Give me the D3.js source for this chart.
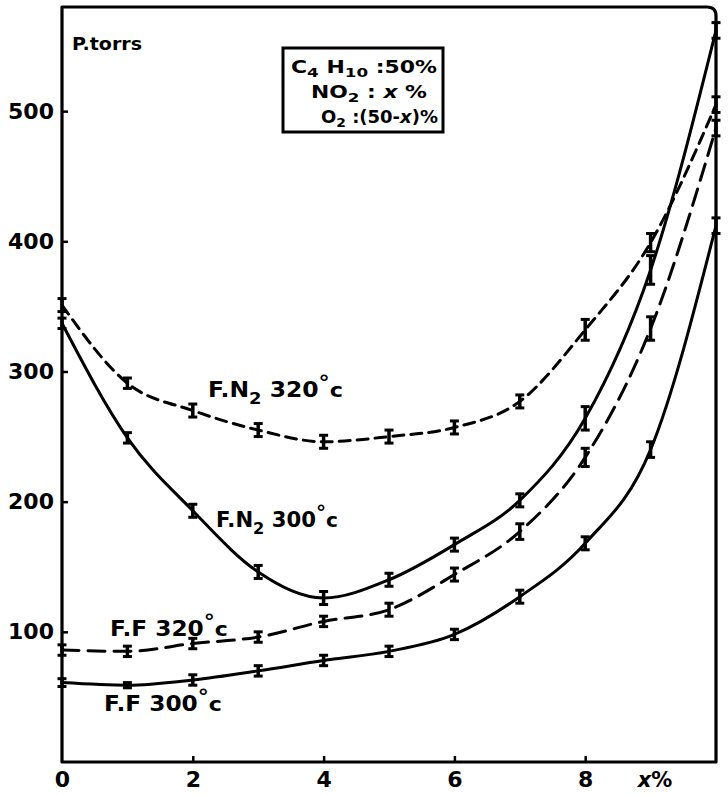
<!DOCTYPE html>
<html>
<head>
<meta charset="utf-8">
<script src="https://cdn.jsdelivr.net/npm/d3@7"></script>
<style>
  html, body { margin: 0; padding: 0; background: #fff; }
  svg { display: block; }
  text { font-family: "DejaVu Sans", sans-serif; font-weight: bold; fill: #000; }
</style>
</head>
<body>
<svg id="chart" width="728" height="795"></svg>
<script>
// NO2 fraction x (%) of the C4H10 / NO2 / O2 mixture
const xPct = [0, 1, 2, 3, 4, 5, 6, 7, 8, 9, 10];

// Critical pressures (torr) for each limit and temperature
const fn2_320 = [351, 291, 270, 255, 246, 250, 257, 277, 332, 399, 505];
const fn2_300 = [337, 249, 193, 146, 126, 140, 167, 201, 264, 378, 562];
const ff_320  = [86, 85, 91, 96, 108, 117, 144, 177, 234, 333, 487];
const ff_300  = [61, 59, 63, 70, 78, 85, 98, 127, 168, 240, 412];

// Half-length of the scatter bar on each measurement (torr)
const fn2_320_err = [5, 4, 5, 5, 5, 5, 5, 5, 8, 7, 6];
const fn2_300_err = [4, 4, 5, 5, 5, 5, 5, 5, 9, 11, 6];
const ff_320_err  = [4, 4, 4, 4, 4, 5, 5, 6, 7, 9, 6];
const ff_300_err  = [3, 2, 4, 4, 4, 4, 4, 5, 5, 6, 6];

const yTicks = [100, 200, 300, 400, 500];
const xTicks = [0, 2, 4, 6, 8];

const svg = d3.select("#chart");
const plotLeft = 62, plotRight = 716, plotTop = 7, plotBottom = 762;

const x = d3.scaleLinear().domain([0, 10]).range([plotLeft, plotRight]);
const y = d3.scaleLinear().domain([0, 580]).range([plotBottom, plotTop]);

// Frame with a slightly rounded top-right corner
svg.append("path")
  .attr("d", `M${plotLeft},${plotBottom} V${plotTop} H${plotRight - 9} Q${plotRight},${plotTop} ${plotRight},${plotTop + 9} V${plotBottom} Z`)
  .attr("fill", "none").attr("stroke", "#000").attr("stroke-width", 3.2)
  .attr("stroke-linejoin", "round");

// Axes: inward ticks, bold labels
const yAxis = svg.append("g").attr("transform", `translate(${plotLeft},0)`)
  .call(d3.axisLeft(y).tickValues(yTicks).tickSize(-6).tickPadding(8));
const xAxis = svg.append("g").attr("transform", `translate(0,${plotBottom})`)
  .call(d3.axisBottom(x).tickValues(xTicks).tickSize(-6).tickPadding(9).tickFormat(d3.format("d")));
[yAxis, xAxis].forEach(g => {
  g.select(".domain").remove();
  g.selectAll(".tick line").attr("stroke", "#000").attr("stroke-width", 2.5);
  g.selectAll(".tick text").attr("font-size", 22).attr("font-family", "DejaVu Sans").attr("font-weight", "bold").attr("fill", "#000");
});
xAxis.selectAll(".tick").filter(d => d === 0).select("line").remove();

// Axis titles
svg.append("text").attr("x", 655).attr("y", plotBottom + 25).attr("font-size", 21)
  .attr("text-anchor", "middle")
  .call(t => { t.append("tspan").attr("font-style", "italic").text("x"); t.append("tspan").text("%"); });
svg.append("text").attr("x", 72).attr("y", 50).attr("font-size", 18)
  .attr("textLength", 70).attr("lengthAdjust", "spacingAndGlyphs").text("P.torrs");

// Mixture composition box
const box = svg.append("g");
box.append("rect").attr("x", 283).attr("y", 48).attr("width", 160).attr("height", 84)
  .attr("fill", "none").attr("stroke", "#000").attr("stroke-width", 3);
function chem(g, xx, yy, len, parts) {
  const t = g.append("text").attr("x", xx).attr("y", yy).attr("font-size", 17);
  if (len) t.attr("textLength", len).attr("lengthAdjust", "spacingAndGlyphs");
  parts.forEach(p => {
    const s = t.append("tspan").text(p[0]);
    if (p[1] === "sub") s.attr("font-size", 13).attr("dy", 4);
    else if (p[1] === "up") s.attr("dy", -4);
    else if (p[1] === "it") s.attr("font-style", "italic");
  });
  return t;
}
chem(box, 291, 73, 146, [["C"], ["4", "sub"], [" H", "up"], ["10", "sub"], [" :50%", "up"]]);
chem(box, 311, 98, 116, [["NO"], ["2", "sub"], ["  : ", "up"], ["x", "it"], [" %"]]);
chem(box, 321, 123, 117, [["O"], ["2", "sub"], [" :(50-", "up"], ["x", "it"], [")%"]]);

// Curves
const series = [
  { v: fn2_320, e: fn2_320_err, dash: "11,7" },
  { v: fn2_300, e: fn2_300_err, dash: null },
  { v: ff_320,  e: ff_320_err,  dash: "17,9" },
  { v: ff_300,  e: ff_300_err,  dash: null }
];
const line = d3.line().x((d, i) => x(xPct[i])).y(d => y(d)).curve(d3.curveMonotoneX);

series.forEach(s => {
  svg.append("path").datum(s.v).attr("d", line)
    .attr("fill", "none").attr("stroke", "#000").attr("stroke-width", 3)
    .attr("stroke-dasharray", s.dash).attr("stroke-linecap", "round");

  const bars = svg.append("g").selectAll("g").data(s.v).join("g");
  bars.append("line")
    .attr("x1", (d, i) => x(xPct[i])).attr("x2", (d, i) => x(xPct[i]))
    .attr("y1", (d, i) => y(d - s.e[i])).attr("y2", (d, i) => y(d + s.e[i]))
    .attr("stroke", "#000").attr("stroke-width", 3.5);
  ["-", "+"].forEach(sign => {
    bars.append("line")
      .attr("x1", (d, i) => x(xPct[i]) - 4.5).attr("x2", (d, i) => x(xPct[i]) + 4.5)
      .attr("y1", (d, i) => y(sign === "-" ? d - s.e[i] : d + s.e[i]))
      .attr("y2", (d, i) => y(sign === "-" ? d - s.e[i] : d + s.e[i]))
      .attr("stroke", "#000").attr("stroke-width", 3);
  });
});

// Curve labels
function curveLabel(xx, yy, len, name, sub, temp) {
  const t = svg.append("text").attr("x", xx).attr("y", yy).attr("font-size", 21)
    .attr("textLength", len).attr("lengthAdjust", "spacingAndGlyphs");
  t.append("tspan").text(name);
  if (sub) {
    t.append("tspan").attr("font-size", 16).attr("dy", 7).text(sub);
    t.append("tspan").attr("dy", -7).text(" " + temp);
  } else {
    t.append("tspan").text("  " + temp);
  }
  t.append("tspan").attr("font-size", 20).attr("dy", -8).text("°");
  t.append("tspan").attr("font-size", 20).attr("dy", 8).text("c");
}
curveLabel(208, 397, 135, "F.N", "2", "320");
curveLabel(216, 527, 122, "F.N", "2", "300");
curveLabel(110, 636, 118, "F.F", null, "320");
curveLabel(104, 711, 118, "F.F", null, "300");
</script>
</body>
</html>
